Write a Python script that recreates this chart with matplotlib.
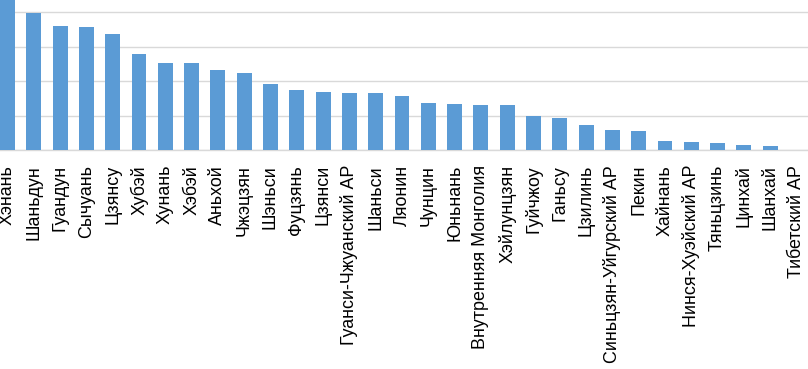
import matplotlib
matplotlib.use("Agg")
import matplotlib.pyplot as plt
import numpy as np

plt.rcParams['font.family'] = ['Liberation Sans', 'DejaVu Sans']

regions = [
    "Хэнань", "Шаньдун", "Гуандун", "Сычуань", "Цзянсу", "Хубэй", "Хунань",
    "Хэбэй", "Аньхой", "Чжэцзян", "Шэньси", "Фуцзянь", "Цзянси",
    "Гуанси-Чжуанский АР", "Шаньси", "Ляонин", "Чунцин", "Юньнань",
    "Внутренняя Монголия", "Хэйлунцзян", "Гуйчжоу", "Ганьсу", "Цзилинь",
    "Синьцзян-Уйгурский АР", "Пекин", "Хайнань", "Нинся-Хуэйский АР",
    "Тяньцзинь", "Цинхай", "Шанхай", "Тибетский АР",
]
values = [
    4.60, 3.99, 3.60, 3.57, 3.36, 2.79, 2.53,
    2.53, 2.33, 2.24, 1.93, 1.76, 1.70,
    1.67, 1.65, 1.58, 1.38, 1.33,
    1.32, 1.30, 1.00, 0.945, 0.74,
    0.59, 0.55, 0.28, 0.25,
    0.21, 0.15, 0.13, 0.0,
]


def main():
    fig = plt.figure(figsize=(8.08, 3.69), dpi=100)
    ax = fig.add_axes([-5.65 / 808, 218.7 / 369, 815.3 / 808, 150.3 / 369])
    x = np.arange(len(regions))
    ax.bar(x, values, width=0.57, color="#5B9BD5", zorder=3)
    ax.set_xlim(-0.5, len(regions) - 0.5)
    ax.set_ylim(0, 4.357)
    ax.set_yticks([0, 1, 2, 3, 4])
    ax.yaxis.grid(True, color="#D9D9D9", linewidth=1.0, zorder=0)
    ax.tick_params(axis="y", left=False, labelleft=False)
    ax.set_xticks(x)
    ax.set_xticklabels(regions, rotation=90, fontsize=12.9, color="black")
    ax.tick_params(axis="x", length=0, pad=10.5)
    for side in ("top", "left", "right"):
        ax.spines[side].set_visible(False)
    ax.spines["bottom"].set_color("#D9D9D9")
    ax.spines["bottom"].set_linewidth(1.0)
    fig.savefig("out.png", dpi=100)


if __name__ == "__main__":
    main()
